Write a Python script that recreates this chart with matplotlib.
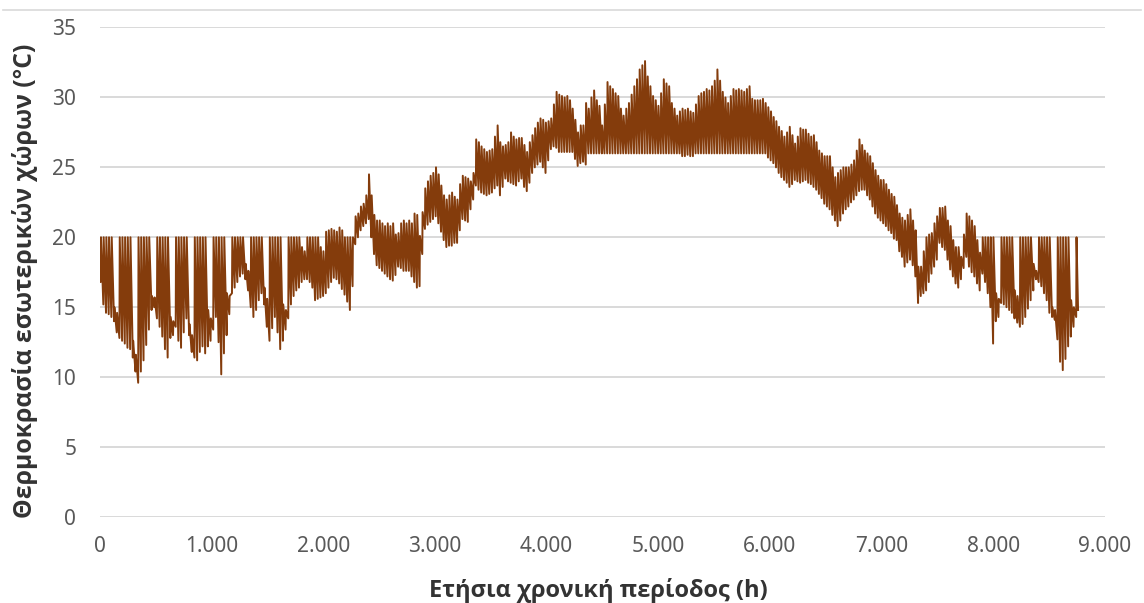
import matplotlib
matplotlib.use("Agg")
import matplotlib.pyplot as plt
import numpy as np
from matplotlib.ticker import FuncFormatter

# Ημερήσιες ελάχιστες / μέγιστες θερμοκρασίες εσωτερικών χώρων (°C), μία γραμμή ανά εβδομάδα
daily_min = [
    16.8, 15.2, 14.6, 14.5, 14.3, 14.0, 13.2,
    12.8, 12.6, 12.4, 12.1, 12.0, 11.4, 10.4,
    9.6, 10.4, 11.2, 12.3, 13.4, 14.8, 15.0,
    14.2, 13.6, 12.9, 12.0, 11.4, 12.8, 13.0,
    13.6, 12.6, 12.1, 13.2, 14.2, 13.0, 11.8,
    11.4, 11.2, 11.8, 12.2, 11.7, 12.2, 12.6,
    13.4, 14.3, 12.5, 10.2, 11.7, 13.0, 14.5,
    16.0, 16.4, 16.8, 17.2, 17.4, 17.0, 16.2,
    15.0, 14.3, 14.8, 15.5, 16.0, 15.2, 13.6,
    12.6, 13.5, 14.3, 13.2, 12.0, 12.6, 13.4,
    14.2, 15.2, 15.8, 16.2, 16.4, 16.8, 17.0,
    17.0, 16.8, 16.4, 15.5, 15.6, 15.7, 15.8,
    16.0, 16.4, 16.8, 17.1, 17.0, 16.7, 16.3,
    15.9, 15.4, 14.8, 16.5, 19.5, 20.0, 20.5,
    20.8, 21.0, 21.3, 20.0, 18.8, 18.0, 17.8,
    17.6, 17.4, 17.2, 17.0, 16.9, 17.3, 17.9,
    17.8, 17.6, 17.6, 17.6, 17.2, 16.8, 16.4,
    16.5, 18.8, 20.6, 20.9, 21.1, 21.3, 21.5,
    21.0, 20.4, 19.8, 19.3, 19.4, 19.4, 19.6,
    19.6, 20.5, 21.3, 21.2, 21.1, 22.0, 22.7,
    23.7, 23.4, 23.2, 23.1, 23.0, 23.1, 23.2,
    23.5, 23.7, 23.0, 23.6, 24.2, 24.0, 23.9,
    23.8, 23.7, 24.0, 24.2, 23.6, 23.3, 23.9,
    24.6, 25.0, 25.2, 25.4, 25.0, 24.6, 25.5,
    26.3, 26.5, 26.4, 26.1, 26.1, 26.1, 26.1,
    26.1, 26.1, 25.6, 25.1, 25.3, 25.4, 25.2,
    26.0, 26.0, 26.0, 26.0, 26.0, 26.0, 26.0,
    26.0, 26.0, 26.0, 26.0, 26.0, 26.0, 26.0,
    26.0, 26.0, 26.0, 26.0, 26.0, 26.0, 26.0,
    26.0, 26.0, 26.0, 26.0, 26.0, 26.0, 26.0,
    26.0, 26.0, 26.0, 26.0, 26.0, 26.0, 26.0,
    25.8, 25.8, 25.9, 25.8, 25.8, 26.0, 26.0,
    26.0, 26.0, 26.0, 26.0, 26.0, 26.0, 26.0,
    26.0, 26.0, 26.0, 26.0, 26.0, 26.0, 26.0,
    26.0, 26.0, 26.0, 26.0, 26.0, 26.0, 26.0,
    26.0, 26.0, 26.0, 26.0, 25.7, 25.5, 25.3,
    25.0, 24.6, 24.3, 24.1, 23.9, 23.6, 23.8,
    24.1, 24.0, 23.9, 24.0, 24.1, 23.9, 23.8,
    23.6, 23.4, 23.1, 22.8, 22.4, 22.2, 22.0,
    21.6, 21.2, 20.8, 21.2, 21.7, 22.0, 22.2,
    22.5, 22.7, 23.0, 23.3, 23.4, 23.4, 23.0,
    22.7, 22.2, 21.7, 21.4, 21.2, 21.0, 20.8,
    20.5, 20.3, 19.9, 19.8, 19.0, 18.6, 17.9,
    18.2, 18.4, 18.0, 17.2, 15.3, 15.8, 16.0,
    16.2, 16.8, 17.4, 17.9, 18.4, 19.6, 19.3,
    19.1, 18.4, 17.7, 17.2, 16.7, 16.4, 17.0,
    17.8, 18.6, 17.9, 17.5, 17.2, 16.7, 16.2,
    17.4, 16.8, 16.0, 15.0, 12.4, 14.0, 14.3,
    15.3, 15.2, 15.0, 14.8, 14.6, 14.2, 13.9,
    13.6, 13.8, 14.3, 14.9, 15.5, 16.2, 17.0,
    16.8, 16.5, 16.0, 15.5, 14.6, 14.3, 14.1,
    12.7, 11.1, 10.5, 11.3, 12.2, 12.9, 13.6,
    14.3,
]

daily_max = [
    20.0, 20.0, 20.0, 20.0, 20.0, 15.0, 14.6,
    20.0, 20.0, 20.0, 20.0, 20.0, 12.6, 11.6,
    20.0, 20.0, 20.0, 20.0, 20.0, 15.8, 15.7,
    20.0, 20.0, 20.0, 20.0, 20.0, 14.3, 14.0,
    20.0, 20.0, 20.0, 20.0, 20.0, 13.8, 13.0,
    20.0, 20.0, 20.0, 20.0, 20.0, 14.8, 14.2,
    20.0, 20.0, 20.0, 20.0, 20.0, 16.0, 15.8,
    20.0, 20.0, 20.0, 20.0, 20.0, 18.1, 17.6,
    20.0, 20.0, 20.0, 20.0, 20.0, 16.4, 15.6,
    20.0, 20.0, 20.0, 20.0, 20.0, 15.2, 14.8,
    20.0, 20.0, 20.0, 20.0, 20.0, 19.3, 19.0,
    20.0, 20.0, 20.0, 20.0, 20.0, 19.3, 19.0,
    20.4, 20.5, 20.6, 20.5, 20.4, 20.7, 20.5,
    20.0, 20.0, 20.0, 20.0, 21.5, 21.7, 22.2,
    22.4, 23.0, 24.5, 23.0, 21.6, 21.2, 21.2,
    21.0, 20.8, 21.0, 20.8, 21.0, 20.2, 20.3,
    21.0, 21.2, 21.0, 21.2, 21.0, 21.7, 21.6,
    20.1, 21.8, 23.5, 24.0, 24.4, 24.6, 25.0,
    24.5, 23.7, 23.0, 22.7, 23.0, 23.2, 22.9,
    22.7, 23.8, 24.4, 24.3, 24.2, 24.0, 24.6,
    27.0, 26.8, 26.5, 26.3, 26.1, 26.2, 26.3,
    27.2, 28.0, 26.8, 26.5, 26.6, 26.8, 27.5,
    27.2, 27.0, 27.1, 27.1, 26.6, 26.1, 26.8,
    27.3, 27.8, 28.2, 28.5, 28.4, 28.2, 28.3,
    28.5, 29.5, 30.4, 30.2, 30.1, 30.0, 30.1,
    29.8, 29.2, 28.4, 27.5, 28.0, 28.0, 29.6,
    29.2, 30.0, 30.5, 29.8, 29.4, 28.0, 29.5,
    31.1, 30.8, 30.6, 30.3, 30.1, 29.2, 28.7,
    29.2, 29.6, 30.2, 30.8, 31.3, 32.0, 32.3,
    32.6, 31.5, 30.8, 30.1, 29.8, 29.4, 30.3,
    31.3, 31.0, 30.8, 29.6, 29.2, 28.7, 29.0,
    29.2, 29.1, 29.2, 29.0, 28.9, 29.5, 30.1,
    30.3, 30.4, 30.6, 30.5, 30.8, 31.2, 32.0,
    31.2, 30.4, 30.0, 29.6, 30.1, 30.6, 30.5,
    30.6, 30.5, 30.4, 30.6, 30.8, 29.9, 29.8,
    29.8, 29.8, 29.9, 29.6, 29.3, 29.0, 28.6,
    28.3, 27.9, 27.6, 27.2, 27.5, 27.9, 27.3,
    26.7, 27.2, 27.8, 27.7, 27.7, 27.4, 27.2,
    27.3, 26.8, 26.2, 26.0, 25.8, 25.8, 25.8,
    25.0, 24.3, 24.6, 24.8, 25.0, 25.0, 25.0,
    25.2, 25.5, 26.2, 27.0, 26.6, 26.2, 26.0,
    25.8, 25.3, 24.8, 24.4, 24.1, 24.1, 23.8,
    23.4, 23.1, 22.9, 22.3, 21.7, 21.4, 21.2,
    21.6, 22.0, 21.2, 20.5, 17.9, 17.9, 19.0,
    20.0, 20.2, 20.3, 21.0, 21.5, 22.1, 22.1,
    22.2, 21.2, 20.8, 19.8, 19.3, 19.3, 18.6,
    20.2, 21.7, 21.5, 21.2, 20.8, 19.8, 18.9,
    20.0, 20.0, 20.0, 20.0, 20.0, 16.0, 15.6,
    20.0, 20.0, 20.0, 20.0, 20.0, 16.2, 15.8,
    20.0, 20.0, 20.0, 20.0, 20.0, 18.1, 17.6,
    20.0, 20.0, 20.0, 20.0, 20.0, 15.0, 14.8,
    20.0, 20.0, 20.0, 20.0, 20.0, 15.5, 15.0,
    20.0,
]

start_temp = 18.3   # τιμή στην ώρα 0
end_temp = 14.8     # τιμή στην τελευταία ώρα (8759)

y_ticks = [0, 5, 10, 15, 20, 25, 30, 35]
x_ticks = [0, 1000, 2000, 3000, 4000, 5000, 6000, 7000, 8000, 9000]

LINE_COLOR = "#843C0C"
GRID_COLOR = "#d9d9d9"

plt.rcParams["font.family"] = ["Noto Sans", "DejaVu Sans"]

# πολυγωνική γραμμή: ελάχιστο νωρίς το πρωί, μέγιστο λίγο μετά
days = np.arange(len(daily_min))
hours = np.column_stack([days * 24 + 6, days * 24 + 9]).ravel()
temps = np.column_stack([daily_min, daily_max]).ravel()
hours = np.concatenate([[0], hours, [8759]])
temps = np.concatenate([[start_temp], temps, [end_temp]])

fig = plt.figure(figsize=(11.44, 6.03), dpi=100)
ax = fig.add_axes([0.0874, 0.1426, 0.8785, 0.8118])

ax.plot(hours, temps, color=LINE_COLOR, lw=1.4, zorder=3)

ax.set_xlim(0, 9000)
ax.set_ylim(0, 35)
ax.set_xticks(x_ticks)
ax.set_yticks(y_ticks)
ax.xaxis.set_major_formatter(FuncFormatter(lambda v, p: f"{int(v):,}".replace(",", ".")))

# οριζόντιες γραμμές πλέγματος
ax.grid(axis="y", color=GRID_COLOR, lw=1.4, zorder=0)
ax.set_axisbelow(True)
for s in ax.spines.values():
    s.set_visible(False)
ax.tick_params(axis="both", length=0, labelsize=15, labelcolor="#595959")
ax.tick_params(axis="y", pad=17)
ax.tick_params(axis="x", pad=14)

# τίτλοι αξόνων
label_font = dict(fontweight="bold", family=["Open Sans", "DejaVu Sans"], color="#333333")
fig.text(0.0219, 0.535, "Θερμοκρασία εσωτερικών χώρων (°C)", rotation=90,
         ha="center", va="center", fontsize=17.8, **label_font)
fig.text(0.523, 0.021, "Ετήσια χρονική περίοδος (h)",
         ha="center", va="center", fontsize=17, **label_font)

# λεπτή γραμμή πλαισίου στο πάνω μέρος
fig.add_artist(plt.Line2D([0.003, 0.997], [0.983, 0.983], transform=fig.transFigure,
                          color=GRID_COLOR, lw=1.2))

fig.savefig("out.png", dpi=100)
